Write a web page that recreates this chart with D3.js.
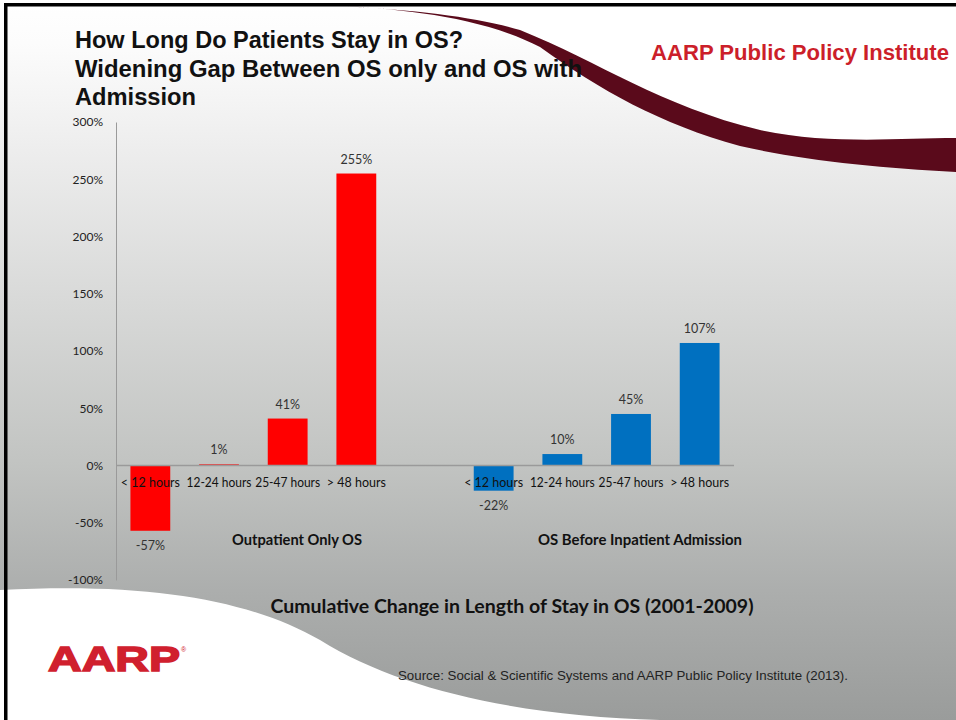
<!DOCTYPE html>
<html>
<head>
<meta charset="utf-8">
<script src="https://cdn.jsdelivr.net/npm/d3@7"></script>
<style>
  html, body { margin: 0; padding: 0; background: #fff; }
  svg { display: block; }
</style>
</head>
<body>
<svg id="chart" width="956" height="720"></svg>
<script>
// Length-of-stay categories and cumulative change (%) 2001-2009
const categories = ["< 12 hours", "12-24 hours", "25-47 hours", "> 48 hours"];
const outpatientOnly = [-57, 1, 41, 255];
const beforeAdmission = [-22, 10, 45, 107];
const groupNames = ["Outpatient Only OS", "OS Before Inpatient Admission"];
const yTicks = [-100, -50, 0, 50, 100, 150, 200, 250, 300];
const seriesColors = ["#ff0000", "#0070c0"];

const svg = d3.select("#chart");
const W = 956, H = 720;

// ---- slide background ----
const defs = svg.append("defs");
const bg = defs.append("linearGradient").attr("id", "bgGrad")
  .attr("x1", 0).attr("y1", 0).attr("x2", 0).attr("y2", 1);
[[0, "#ffffff"], [0.06, "#fcfcfc"], [0.2, "#eeeeee"], [0.42, "#d8d9d8"],
 [0.64, "#c2c4c2"], [0.82, "#acaead"], [1, "#9a9c9b"]]
  .forEach(([o, c]) => bg.append("stop").attr("offset", o).attr("stop-color", c));

svg.append("rect").attr("width", W).attr("height", H).attr("fill", "url(#bgGrad)");

// white area above the maroon ribbon
svg.append("path")
  .attr("d", "M340,6 C420,10 480,18 520,30 C600,62 660,106 760,130 C830,145 900,138 956,138 L956,0 L340,0 Z")
  .attr("fill", "#ffffff");

// maroon ribbon across the top right
svg.append("path")
  .attr("d", "M340,6 C420,10 480,18 520,30 C600,62 660,106 760,130 C830,145 900,138 956,138 " +
             "L956,172 C880,168 800,160 740,146 C660,124 600,90 540,47 C480,16 400,9 340,6 Z")
  .attr("fill", "#5a0a1b");

// white swoosh at the bottom left
svg.append("path")
  .attr("d", "M0,590 C150,582 250,600 320,640 C400,690 520,716 660,720 L0,720 Z")
  .attr("fill", "#ffffff");

// frame on the left and top
svg.append("rect").attr("x", 4).attr("y", 3).attr("width", W - 4).attr("height", 3.5).attr("fill", "#000");
svg.append("rect").attr("x", 4).attr("y", 3).attr("width", 3.5).attr("height", H - 3).attr("fill", "#000");

// ---- title & header ----
const titleLines = ["How Long Do Patients Stay in OS?", "Widening Gap Between OS only and OS with", "Admission"];
const titleWidths = [388, 507, 121];
svg.append("g").selectAll("text").data(titleLines).join("text")
  .attr("x", 75).attr("y", (d, i) => 48 + i * 28.5)
  .attr("font-family", "Liberation Sans, Arial, sans-serif")
  .attr("font-weight", "bold").attr("font-size", 23).attr("fill", "#111")
  .attr("textLength", (d, i) => titleWidths[i]).attr("lengthAdjust", "spacingAndGlyphs")
  .text(d => d);

svg.append("text").attr("x", 651).attr("y", 60)
  .attr("font-family", "Liberation Sans, Arial, sans-serif")
  .attr("font-weight", "bold").attr("font-size", 22.5).attr("fill", "#cc1f2a")
  .attr("textLength", 298).attr("lengthAdjust", "spacingAndGlyphs")
  .text("AARP Public Policy Institute");

// ---- chart ----
const slots = [
  ...categories.map((c, i) => "a" + i), "gap", ...categories.map((c, i) => "b" + i)
];
const x = d3.scaleBand().domain(slots).range([116, 734]).paddingInner(0.42).paddingOuter(0.21);
const y = d3.scaleLinear().domain([-100, 300]).range([580, 122]);

const bars = [];
categories.forEach((c, i) => bars.push({ key: "a" + i, cat: c, v: outpatientOnly[i], s: 0 }));
categories.forEach((c, i) => bars.push({ key: "b" + i, cat: c, v: beforeAdmission[i], s: 1 }));

// y axis
const yAxis = svg.append("g").attr("transform", "translate(116,0)")
  .call(d3.axisLeft(y).tickValues(yTicks).tickSize(0).tickPadding(13).tickFormat(d => d + "%"));
yAxis.select(".domain").attr("stroke", "#9a9a9a").attr("stroke-width", 1);
yAxis.selectAll("text").attr("font-family", "Lato, sans-serif").attr("font-size", 12).attr("fill", "#222");

// bars
svg.append("g").selectAll("rect").data(bars).join("rect")
  .attr("x", d => x(d.key)).attr("width", x.bandwidth())
  .attr("y", d => y(Math.max(0, d.v)))
  .attr("height", d => Math.abs(y(d.v) - y(0)))
  .attr("fill", d => seriesColors[d.s]);

// zero line
svg.append("line").attr("x1", 116).attr("x2", 734).attr("y1", y(0)).attr("y2", y(0))
  .attr("stroke", "#9a9a9a").attr("stroke-width", 1.5);

// category labels
svg.append("g").selectAll("text").data(bars).join("text")
  .attr("x", d => x(d.key) + x.bandwidth() / 2).attr("y", y(0) + 21)
  .attr("text-anchor", "middle")
  .attr("font-family", "Lato, sans-serif").attr("font-size", 12.5).attr("fill", "#111")
  .attr("textLength", d => d.cat.length * 5.9).attr("lengthAdjust", "spacingAndGlyphs")
  .text(d => d.cat);

// value labels
svg.append("g").selectAll("text").data(bars).join("text")
  .attr("x", d => x(d.key) + x.bandwidth() / 2)
  .attr("y", d => d.v >= 0 ? y(d.v) - 10 : y(d.v) + 19)
  .attr("text-anchor", "middle")
  .attr("font-family", "Lato, sans-serif").attr("font-size", 12.5).attr("fill", "#333")
  .text(d => d.v + "%");

// group labels
const groupX = [297, 640];
const groupW = [130, 204];
svg.append("g").selectAll("text").data(groupNames).join("text")
  .attr("x", (d, i) => groupX[i]).attr("y", 545)
  .attr("text-anchor", "middle")
  .attr("font-family", "Lato, sans-serif").attr("font-weight", "bold").attr("font-size", 15).attr("fill", "#111")
  .attr("textLength", (d, i) => groupW[i]).attr("lengthAdjust", "spacingAndGlyphs")
  .text(d => d);

// axis caption
svg.append("text").attr("x", 512).attr("y", 613).attr("text-anchor", "middle")
  .attr("font-family", "Lato, sans-serif").attr("font-weight", "bold").attr("font-size", 19).attr("fill", "#111")
  .attr("textLength", 483).attr("lengthAdjust", "spacingAndGlyphs")
  .text("Cumulative Change in Length of Stay in OS (2001-2009)");

// source
svg.append("text").attr("x", 398).attr("y", 680)
  .attr("font-family", "Liberation Sans, Arial, sans-serif").attr("font-size", 12.5).attr("fill", "#222")
  .attr("textLength", 450).attr("lengthAdjust", "spacingAndGlyphs")
  .text("Source: Social & Scientific Systems and AARP Public Policy Institute (2013).");

// AARP wordmark: heavy, tall and tightly set
svg.append("text")
  .attr("transform", "translate(48,671) scale(1,1.25)")
  .attr("font-family", "Liberation Sans, sans-serif")
  .attr("font-weight", "bold").attr("font-size", 28).attr("fill", "#d0202e")
  .attr("stroke", "#d0202e").attr("stroke-width", 1.2)
  .attr("textLength", 132).attr("lengthAdjust", "spacingAndGlyphs")
  .text("AARP");
svg.append("text").attr("x", 181).attr("y", 652)
  .attr("font-family", "Liberation Sans, sans-serif").attr("font-size", 7).attr("fill", "#d0202e")
  .text("®");
</script>
</body>
</html>
